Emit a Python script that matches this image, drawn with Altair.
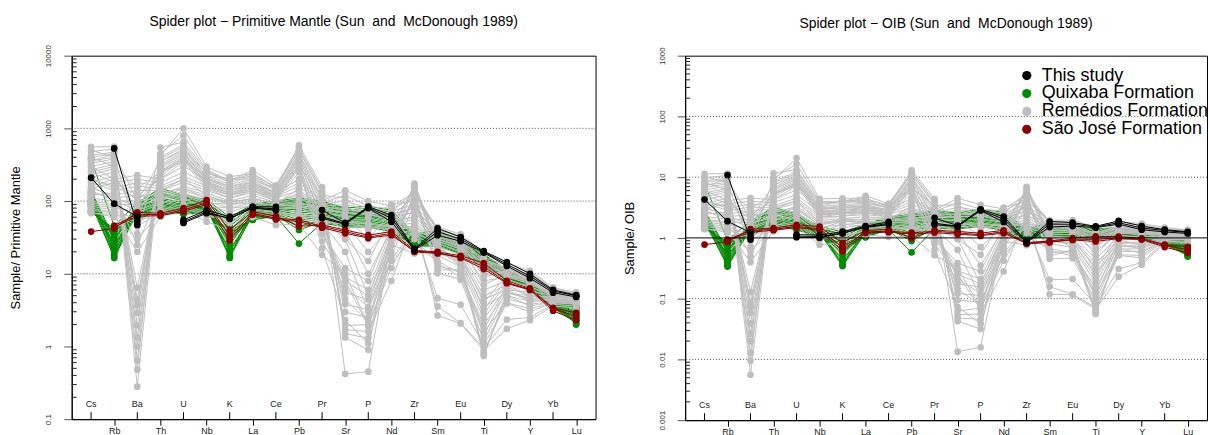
import altair as alt
import pandas as pd

# ---------------- data ----------------
elements = ["Cs", "Rb", "Ba", "Th", "U", "Nb", "K", "La", "Ce", "Pb", "Pr",
            "Sr", "P", "Nd", "Zr", "Sm", "Eu", "Ti", "Dy", "Y", "Yb", "Lu"]

# Sun & McDonough (1989) reference compositions (ppm)
pm_ref = [0.0079, 0.635, 6.989, 0.085, 0.021, 0.713, 250, 0.687, 1.775, 0.071, 0.276,
          21.1, 95, 1.354, 11.2, 0.444, 0.168, 1300, 0.737, 4.55, 0.493, 0.074]
oib_ref = [0.387, 31, 350, 4, 1.02, 48, 12000, 37, 80, 3.2, 9.7,
           660, 2700, 38.5, 280, 10, 3, 17200, 5.6, 29, 2.16, 0.3]

# Primitive-mantle normalised values; None = not analysed
this_study = [
    [210, 92, 61, None, 55, 75, 61, 84, 83, None, 75, 50, 84, 64, 22, 42, 32, 20.5, 14.5, 10, 6.0, 5.1],
    [None, 530, 47, None, 50, 68, 58, 80, 75, None, 61, 49, 80, 52, 21, 34, 28, 19.5, 12.8, 8.7, 5.5, 4.8],
    [None, None, 53, None, 52, 71, 57, 82, 78, None, 58, 48, 82, 58, 21.5, 38, 30, 20, 13.5, 9.3, 5.8, 5.0],
]

quixaba = [
    [380, 45, 95, 150, 120, 105, 60, 90, 100, 110, 100, 80, 85, 75, 35, 40, 28, 18.5, 11.3, 7.9, 4.6, 3.6],
    [140, 30, 90, 130, 110, 100, 50, 85, 95, 100, 90, 75, 80, 70, 33, 38, 27, 18, 11, 7.8, 4.5, 3.5],
    [130, 28, 85, 120, 100, 95, 45, 80, 90, 95, 85, 70, 75, 65, 32, 36, 26, 17.5, 10.6, 7.7, 4.4, 3.4],
    [120, 25, 80, 110, 95, 92, 40, 78, 88, 90, 80, 68, 70, 62, 31, 35, 25.5, 17, 10.3, 7.6, 4.3, 3.3],
    [115, 22, 78, 105, 90, 90, 35, 75, 85, 85, 75, 65, 68, 60, 30, 34, 25, 16.5, 10, 7.5, 4.2, 3.2],
    [110, 20, 75, 100, 88, 88, 30, 72, 82, 80, 72, 62, 65, 58, 29, 33, 24, 16, 9.8, 7.4, 4.1, 3.0],
    [105, 18, 72, 95, 85, 86, 25, 70, 80, 75, 70, 60, 62, 55, 28, 32, 23.5, 15.5, 9.6, 7.3, 4.0, 2.9],
    [100, 16.5, 70, 92, 82, 84, 20, 68, 78, 70, 68, 58, 60, 52, 27.5, 31, 23, 15, 9.4, 7.2, 3.9, 2.8],
    [95, 24, 68, 90, 80, 82, 16.5, 66, 75, 65, 65, 56, 58, 50, 27, 30, 22.5, 14.5, 9.2, 7.1, 3.8, 2.7],
    [90, 26, 66, 88, 78, 80, 18, 64, 72, 60, 62, 54, 55, 48, 26.5, 29, 22, 14, 9.0, 7.0, 3.7, 2.6],
    [85, 32, 65, 85, 75, 78, 22, 62, 70, 55, 60, 52, 52, 46, 26, 28, 21.5, 13.5, 8.8, 6.9, 3.6, 2.5],
    [80, 35, 62, 82, 72, 76, 28, 60, 68, 50, 58, 50, 50, 44, 25.5, 27, 21, 13, 8.6, 6.8, 3.55, 2.4],
    [75, 38, 60, 80, 70, 74, 32, 58, 66, 45, 55, 48, 48, 42, 25, 26, 20, 12.8, 8.5, 6.8, 3.5, 2.3],
    [72, 40, 58, 78, 68, 72, 36, 56, 64, 40, 52, 46, 46, 40, 24.5, 25, 19.5, 12.6, 8.4, 6.7, 3.45, 2.2],
    [70, 42, 56, 75, 66, 70, 40, 55, 62, 26, 50, 44, 44, 38, 24, 24, 19, 12.5, 8.3, 6.7, 3.4, 2.1],
    [130, 19, 88, 140, 115, 98, 55, 88, 98, 105, 95, 78, 60, 68, 30, 37, 26, 17.8, 10.8, 7.8, 4.5, 2.0],
    [90, 17, 82, 125, 105, 96, 17, 82, 92, 98, 88, 72, 72, 66, 29, 36, 25, 17.2, 10.4, 7.7, 4.4, 2.05],
]

remedios = [
    [555, 560, 0.28, 420, 1000, 295, 216, 240, 150, 585, 155, 0.42, 0.45, 30, 174, 26, 12, 0.74, 5.5, 4.6, 4.4, 4.3],
    [480, 520, 0.48, 544, 650, 260, 190, 266, 165, 540, 140, 1.33, 0.9, 40, 165, 24, 14, 0.78, 5.0, 4.2, 4.3, 4.2],
    [430, 470, 0.64, 400, 600, 240, 200, 220, 160, 500, 125, 1.5, 1.3, 25, 160, 20, 16, 0.82, 4.5, 3.8, 4.2, 4.0],
    [400, 450, 1.0, 380, 560, 220, 170, 200, 140, 450, 100, 1.7, 1.6, 8, 60, 2.66, 2.07, 0.88, 1.75, 2.3, 3.6, 3.4],
    [360, 400, 1.33, 350, 520, 210, 160, 190, 130, 420, 90, 1.94, 2.0, 12, 45, 3.56, 2.1, 0.95, 2.35, 2.5, 3.8, 3.6],
    [330, 380, 1.96, 320, 480, 200, 150, 180, 125, 380, 80, 2.97, 2.5, 16, 40, 4.6, 3.76, 1.05, 3.9, 3.0, 4.0, 3.8],
    [300, 350, 2.9, 300, 450, 190, 140, 170, 120, 350, 60, 3.8, 3.2, 20, 130, 10.2, 8.3, 1.2, 5.0, 3.6, 4.1, 4.0],
    [270, 320, 3.7, 280, 420, 180, 130, 160, 115, 320, 40, 5.5, 4.4, 25, 120, 11.3, 11.3, 1.4, 6.0, 4.2, 4.3, 4.1],
    [250, 300, 4.4, 260, 400, 175, 125, 150, 110, 300, 28, 7.9, 5.0, 30, 100, 12.6, 11, 1.7, 7.0, 5.0, 4.6, 4.3],
    [230, 280, 6.4, 240, 380, 170, 120, 140, 105, 280, 22.5, 2.3, 1.1, 18, 90, 15, 10, 2.0, 5.5, 4.5, 4.5, 4.3],
    [210, 250, 60, 300, 450, 200, 160, 180, 130, 400, 70, 4.5, 2.2, 30, 110, 18, 12.5, 2.4, 6.5, 5.0, 4.8, 4.6],
    [180, 220, 80, 250, 400, 180, 140, 160, 120, 350, 55, 6.5, 3.5, 35, 100, 20, 14, 2.8, 7.5, 5.8, 5.0, 4.8],
    [160, 200, 100, 220, 380, 160, 120, 150, 110, 300, 45, 9.0, 6.0, 40, 95, 22, 16, 3.2, 8.5, 6.5, 5.2, 5.0],
    [150, 180, 120, 200, 350, 150, 110, 140, 100, 250, 35, 12, 8.0, 45, 150, 24, 18, 4.0, 9.5, 7.0, 5.5, 5.2],
    [300, 200, 227, 200, 300, 200, 150, 170, 130, 200, 100, 141, 100, 85, 130, 42, 33, 17, 13, 10.5, 6.2, 5.5],
    [250, 180, 200, 180, 250, 180, 140, 160, 120, 180, 95, 120, 85, 78, 110, 40, 32, 15, 12, 9.8, 6.0, 5.3],
    [200, 150, 180, 160, 220, 160, 130, 150, 115, 160, 90, 100, 80, 72, 90, 38, 30, 14, 11.5, 9.3, 5.8, 5.1],
    [180, 140, 160, 150, 200, 150, 120, 140, 110, 140, 85, 90, 75, 66, 80, 36, 28, 13, 11, 9.0, 5.6, 5.0],
    [150, 120, 140, 140, 180, 140, 110, 130, 100, 120, 80, 80, 70, 60, 70, 34, 27, 12, 10.5, 8.6, 5.4, 4.8],
    [130, 110, 120, 120, 160, 130, 100, 120, 95, 110, 75, 70, 65, 55, 60, 32, 25, 11, 10, 8.2, 5.2, 4.7],
    [110, 100, 100, 110, 150, 120, 95, 110, 90, 100, 70, 60, 40, 50, 55, 30, 24, 10, 9.5, 7.8, 5.0, 4.6],
    [100, 90, 90, 100, 140, 110, 90, 100, 85, 90, 65, 50, 20, 45, 50, 28, 22, 8, 9.0, 7.4, 4.8, 4.4],
    [90, 80, 70, 90, 130, 100, 80, 95, 80, 80, 60, 40, 10, 40, 45, 26, 20, 6, 8.0, 6.8, 4.6, 4.2],
    [80, 70, 50, 80, 120, 90, 70, 90, 75, 70, 55, 30, 5.0, 35, 40, 24, 18, 5, 7.0, 6.2, 4.4, 4.1],
    [70, 60, 30, 70, 110, 80, 60, 80, 70, 60, 50, 20, 3.0, 30, 35, 22, 16, 4.5, 6.0, 5.6, 4.3, 4.0],
    [68, 65, 20, 61, 75, 52, 40, 60, 47, 48, 18.2, 10, 2.0, 25, 19, 20, 15, 3.5, 5.4, 5.0, 4.2, 3.9],
    [400, 300, 150, 250, 350, 220, 200, 200, 150, 300, 120, 110, 60, 90, 100, 44, 35, 20, 14, 11, 6.5, 5.5],
    [350, 450, 100, 350, 500, 250, 180, 220, 140, 450, 110, 30, 15, 60, 120, 40, 28, 9, 11, 9, 5.8, 5.2],
    [500, 400, 36, 450, 800, 270, 190, 240, 150, 500, 130, 60, 30, 70, 140, 38, 25, 7, 10, 8.5, 5.5, 5.0],
    [120, 130, 25, 140, 200, 120, 90, 110, 90, 150, 40, 8.0, 1.9, 15, 30, 14, 9, 1.6, 4.0, 3.3, 4.0, 3.9],
    [95, 85, 65, 75, 90, 70, 65, 75, 70, 65, 60, 55, 50, 45, 40, 30, 24, 14, 10, 8.0, 5.2, 4.7],
    [85, 75, 55, 65, 80, 62, 55, 68, 60, 55, 52, 48, 45, 40, 35, 28, 22, 12, 9.5, 7.6, 5.0, 4.5],
    [140, 100, 75, 95, 105, 85, 80, 85, 78, 85, 70, 62, 58, 52, 60, 33, 26, 15, 11, 8.8, 5.6, 5.0],
    [160, 110, 85, 110, 125, 95, 90, 95, 88, 95, 78, 70, 66, 58, 70, 35, 27, 16, 11.5, 9.2, 5.8, 5.1],
    [75, 68, 45, 70, 85, 66, 50, 72, 65, 62, 56, 52, 48, 44, 45, 30, 23, 13, 9.8, 7.8, 5.1, 4.6],
    [200, 160, 110, 130, 150, 110, 100, 105, 95, 130, 85, 75, 70, 62, 80, 36, 28, 16, 12, 9.5, 6.0, 5.3],
]

sao_jose = [
    [38, 42, 70, 68, 80, 103, 40, 72, 62, 45, 47, 40, 34, 38, 21, 20, 17.7, 14, 8.0, 6.3, 3.4, 2.9],
    [None, 46, 66, 65, 75, 95, 33, 68, 58, 55, 45, 38, 32, 36, 20, 19, 17, 12.5, 7.6, 6.1, 3.3, 2.6],
    [None, 44, 62, 63, 72, 90, 29, 65, 56, 52, 43, 36, 31, 34, 20.5, 19.5, 16.5, 11.6, 7.4, 6.0, 3.1, 2.3],
]

group_names = ["This study", "Quixaba Formation", "Remédios Formation", "São José Formation"]
group_colors = ["#000000", "#008B00", "#BEBEBE", "#8B0000"]
group_rows = dict(zip(group_names, [this_study, quixaba, remedios, sao_jose]))
draw_order = ["Quixaba Formation", "Remédios Formation", "São José Formation", "This study"]

pm_grid = [10, 100, 1000]
oib_grid = [0.01, 0.1, 10, 100]
oib_ref_line = [1]

# ---------------- long table ----------------
records = []
for g in group_names:
    for si, row in enumerate(group_rows[g]):
        seg = 0
        for ei, v in enumerate(row):
            if v is None:
                seg += 1
                continue
            records.append({"group": g, "key": f"{g}-{si}-{seg}", "idx": ei + 1,
                            "pm": v, "oib": v * pm_ref[ei] / oib_ref[ei]})
df = pd.DataFrame(records)

top_labels = pd.DataFrame({"idx": list(range(1, 23, 2)), "el": elements[0::2]})
label_expr = "[" + ",".join("'" + e + "'" for e in elements) + "][datum.value - 1]"

FONT = "Liberation Sans"


def panel(ycol, ydomain, decades, ytitle, title, grid_levels, width, height, legend, solid_levels=None):
    xsc = alt.Scale(domain=[0.16, 22.84], nice=False, zero=False)
    ysc = alt.Scale(type="log", domain=ydomain, nice=False)
    color_scale = alt.Scale(domain=group_names, range=group_colors)
    minor = [d * k for d in decades[:-1] for k in range(2, 10)]

    yaxis = alt.Axis(values=decades, format="~g", tickSize=8, tickColor="#555",
                     labelAngle=270, labelAlign="center", labelBaseline="bottom",
                     labelFontSize=8, labelColor="#333", labelPadding=11, labelOverlap=False,
                     domainColor="#000", grid=False, title=ytitle, titleFontSize=13,
                     titleFontWeight="normal", titleColor="#000", titlePadding=22)
    xaxis = alt.Axis(values=list(range(2, 23, 2)), labelExpr=label_expr, tickSize=6,
                     tickColor="#000", labelFontSize=9, labelColor="#222", labelPadding=1,
                     labelAngle=0, domainColor="#000", grid=False, title=None)

    def X():
        return alt.X("idx:Q", scale=xsc, axis=xaxis)

    def Y(field):
        return alt.Y(field, scale=ysc, axis=yaxis)

    layers = []
    layers.append(
        alt.Chart(pd.DataFrame({"v": grid_levels})).mark_rule(
            color="#555", strokeDash=[1, 2], strokeWidth=1
        ).encode(y=Y("v:Q"))
    )
    layers.append(
        alt.Chart(pd.DataFrame({"v": minor})).mark_rule(color="#222", strokeWidth=1).encode(
            y=Y("v:Q"), x=alt.value(0), x2=alt.value(5))
    )
    layers.append(
        alt.Chart(top_labels).mark_rule(color="#000", strokeWidth=1).encode(
            x=X(), y=alt.value(height - 7), y2=alt.value(height))
    )
    layers.append(
        alt.Chart(top_labels).mark_text(baseline="bottom", fontSize=9, color="#222", font=FONT).encode(
            x=X(), y=alt.value(height - 10), text="el:N")
    )
    for g in draw_order:
        col = group_colors[group_names.index(g)]
        sub = alt.Chart(df).transform_filter(alt.datum.group == g)
        layers.append(
            sub.mark_line(strokeWidth=1, color=col).encode(
                x=X(), y=Y(ycol + ":Q"), detail="key:N", order="idx:Q")
        )
        layers.append(
            sub.mark_circle(size=45, opacity=1).encode(
                x=X(), y=Y(ycol + ":Q"),
                color=alt.Color("group:N", scale=color_scale, legend=legend))
        )
    if solid_levels:
        layers.append(
            alt.Chart(pd.DataFrame({"v": solid_levels})).mark_rule(color="#000", strokeWidth=1).encode(
                y=Y("v:Q"))
        )
    return alt.layer(*layers).properties(
        width=width, height=height,
        title=alt.TitleParams(title, fontSize=14, fontWeight="normal", anchor="middle",
                              offset=16, font=FONT, color="#000"))


legend = alt.Legend(orient="none", legendX=334, legendY=11, title=None, labelFontSize=18,
                    labelFont=FONT, labelColor="#000", symbolType="circle", symbolSize=85,
                    symbolStrokeWidth=0, rowPadding=0, labelOffset=6, padding=0, labelLimit=0)

left = panel("pm", [0.1, 10000], [0.1, 1, 10, 100, 1000, 10000], "Sample/ Primitive Mantle",
             "Spider plot \u2212 Primitive Mantle (Sun\u00a0 and\u00a0 McDonough 1989)",
             pm_grid, 526, 365, None)
right = panel("oib", [0.001, 1000], [0.001, 0.01, 0.1, 1, 10, 100, 1000], "Sample/ OIB",
              "Spider plot \u2212 OIB (Sun\u00a0 and\u00a0 McDonough 1989)",
              oib_grid, 524, 366, legend, solid_levels=oib_ref_line)

chart = alt.hconcat(left, right, spacing=90, bounds="flush").resolve_scale(
    color="independent"
).properties(
    padding={"left": 9, "top": 13, "right": 0, "bottom": 0}
).configure(font=FONT).configure_view(stroke="#000", strokeWidth=1)

chart.save("out.html", embed_options={"renderer": "svg", "actions": False})
